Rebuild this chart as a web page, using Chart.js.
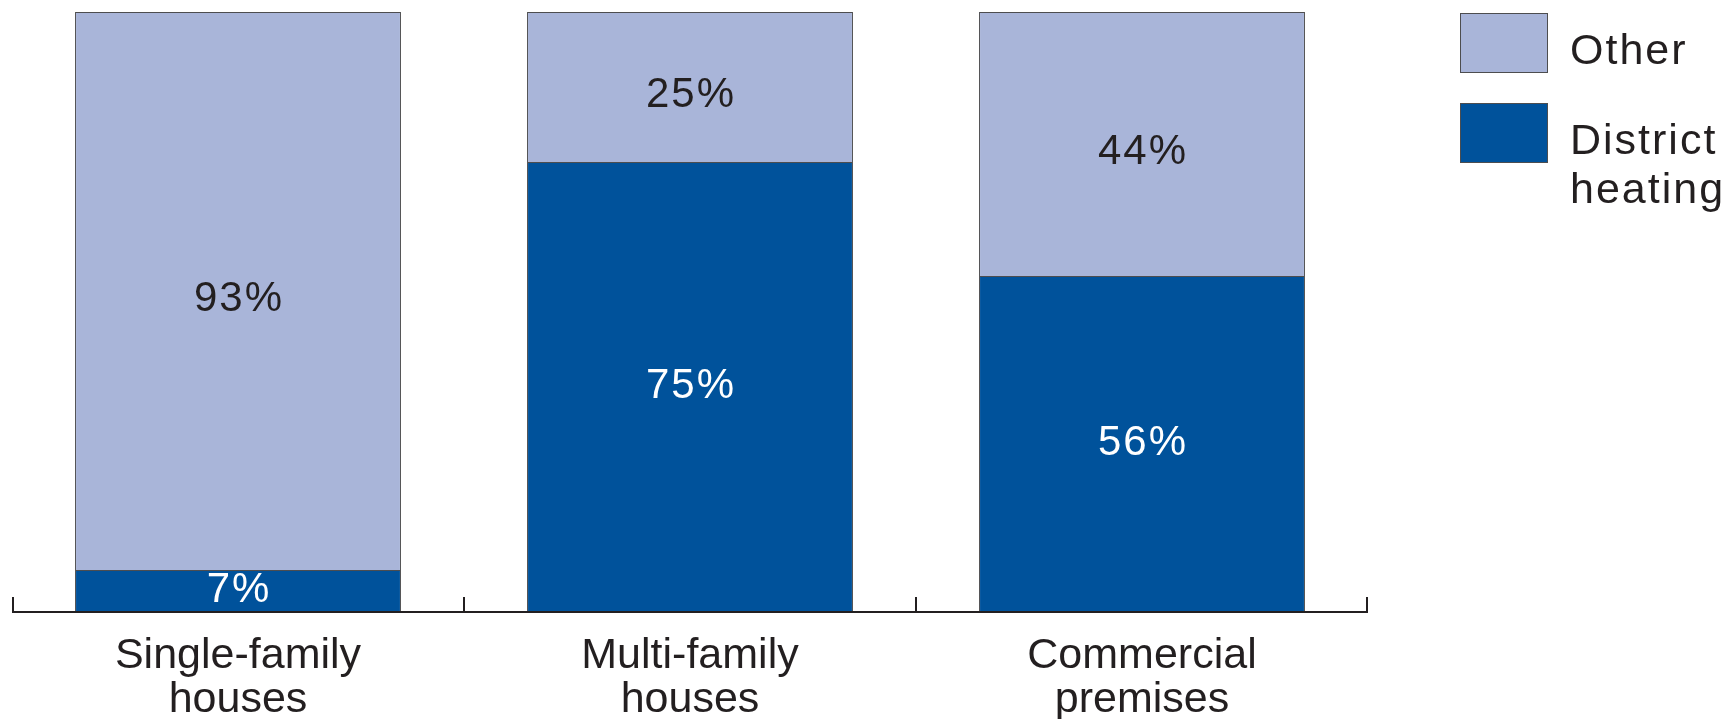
<!DOCTYPE html>
<html>
<head>
<meta charset="utf-8">
<script src="https://cdn.jsdelivr.net/npm/chart.js@4"></script>
<style>
  html, body { margin: 0; padding: 0; background: #fff; }
  #wrap { width: 1730px; height: 719px; }
</style>
</head>
<body>
<div id="wrap"><canvas id="myChart" width="1730" height="719"></canvas></div>
<script>
const categories = [['Single-family', 'houses'], ['Multi-family', 'houses'], ['Commercial', 'premises']];
const districtHeating = [7, 75, 56];
const other = [93, 25, 44];
const seriesNames = ['District heating', 'Other'];
const legendLines = [['District', 'heating'], ['Other']];

const DARK_BLUE = '#00529b';
const LIGHT_BLUE = '#a9b5d9';
const TEXT = '#231f20';
const FONT = '"Liberation Sans", Arial, Helvetica, sans-serif';

// value labels, axis line with upward ticks, and the legend box on the right
const decorations = {
  id: 'decorations',
  afterDatasetsDraw(chart) {
    const ctx = chart.ctx;
    ctx.save();
    ctx.font = '42px ' + FONT;
    ctx.letterSpacing = '2px';
    ctx.textAlign = 'center';
    ctx.textBaseline = 'middle';
    chart.data.datasets.forEach((ds, i) => {
      const meta = chart.getDatasetMeta(i);
      meta.data.forEach((bar, j) => {
        const y = (bar.y + bar.base) / 2;
        ctx.fillStyle = i === 0 ? '#ffffff' : TEXT;
        // labels in the light part sit a bit low in the original
        ctx.fillText(ds.data[j] + '%', bar.x + 1, y + (i === 0 ? -1 : 8));
      });
    });

    // axis
    const area = chart.chartArea;
    ctx.strokeStyle = TEXT;
    ctx.lineWidth = 2;
    ctx.beginPath();
    ctx.moveTo(area.left, area.bottom);
    ctx.lineTo(area.right, area.bottom);
    const step = (area.right - area.left) / categories.length;
    for (let k = 0; k <= categories.length; k++) {
      const x = Math.round(area.left + k * step) + (k === 0 ? 1 : (k === categories.length ? -1 : 0));
      ctx.moveTo(x, area.bottom);
      ctx.lineTo(x, area.bottom - 15);
    }
    ctx.stroke();

    // legend
    const boxX = 1460, boxW = 88, boxH = 60;
    const boxTops = [103, 13];
    ctx.font = '43px ' + FONT;
    ctx.textAlign = 'left';
    ctx.textBaseline = 'alphabetic';
    ctx.letterSpacing = '2px';
    chart.data.datasets.forEach((ds, i) => {
      const top = boxTops[i];
      ctx.fillStyle = ds.backgroundColor;
      ctx.fillRect(boxX, top, boxW, boxH);
      ctx.strokeStyle = '#4d4d4f';
      ctx.lineWidth = 1;
      ctx.strokeRect(boxX + 0.5, top + 0.5, boxW - 1, boxH - 1);
      ctx.fillStyle = TEXT;
      legendLines[i].forEach((line, n) => {
        const base = (i === 1 ? 64 : 154) + n * 49;
        ctx.fillText(line, 1570, base);
      });
    });
    ctx.restore();
  }
};

new Chart(document.getElementById('myChart'), {
  type: 'bar',
  data: {
    labels: categories,
    datasets: [
      {
        label: seriesNames[0],
        data: districtHeating,
        backgroundColor: DARK_BLUE,
        borderColor: '#4d4d4f',
        borderWidth: 1,
      },
      {
        label: seriesNames[1],
        data: other,
        backgroundColor: LIGHT_BLUE,
        borderColor: '#4d4d4f',
        borderWidth: 1,
      },
    ],
  },
  options: {
    responsive: false,
    animation: false,
    devicePixelRatio: 1,
    layout: { padding: { left: 12, top: 12, right: 362, bottom: 0 } },
    plugins: {
      legend: { display: false },
      tooltip: { enabled: false },
    },
    datasets: {
      bar: { barPercentage: 0.721, categoryPercentage: 1.0 },
    },
    scales: {
      x: {
        stacked: true,
        grid: { display: false, drawTicks: false },
        border: { display: false },
        ticks: {
          color: TEXT,
          padding: 22,
          maxRotation: 0,
          autoSkip: false,
          font: { family: FONT, size: 43, lineHeight: 44 / 43 },
        },
        afterFit(scale) { scale.height = 107; },
      },
      y: {
        stacked: true,
        display: false,
        min: 0,
        max: 100,
      },
    },
  },
  plugins: [decorations],
});
</script>
</body>
</html>
